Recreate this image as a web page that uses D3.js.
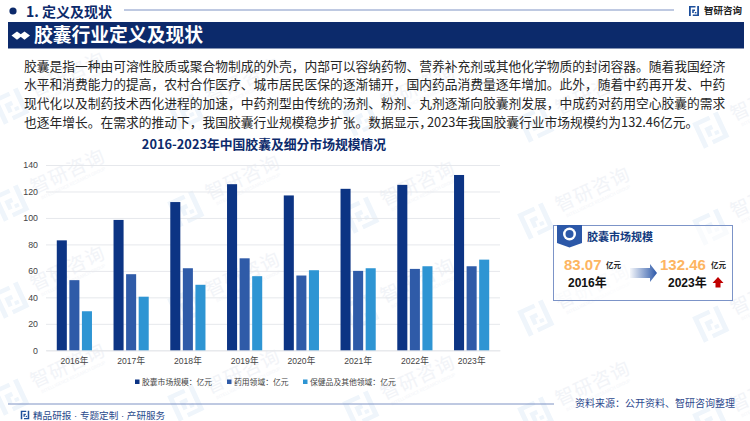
<!DOCTYPE html>
<html><head><meta charset="utf-8">
<script src="https://cdnjs.cloudflare.com/ajax/libs/d3/7.8.5/d3.min.js"></script>
<style>html,body{margin:0;padding:0;background:#fff}svg{display:block}
text{font-family:"Noto Sans CJK SC","Noto Sans",sans-serif}</style></head>
<body><svg id="c" width="750" height="421"></svg>
<script>
const years=["2016年","2017年","2018年","2019年","2020年","2021年","2022年","2023年"];
const market=[83.07,98.5,112,125.5,117,122,125,132.46];
const pharma=[53,57.5,62,69.5,56.5,60,61.5,63.5];
const health=[29.5,40.5,49.5,56,60.5,62,63.5,68.5];
const seriesNames=["胶囊市场规模：亿元","药用领域：亿元","保健品及其他领域：亿元"];
const seriesColors=["#0c3484","#2f5ba8","#2e95d3"];
const yTicks=[0,20,40,60,80,100,120,140];
const paragraph=[
["胶囊是指一种由可溶性胶质或聚合物制成的外壳，内部可以容纳药物、营养补充剂或其他化学物质的封闭容器。随着我国经济"],
["水平和消费能力的提高，农村合作医疗、城市居民医保的逐渐铺开，国内药品消费量逐年增加。此外，随着中药再开发、中药"],
["现代化以及制药技术西化进程的加速，中药剂型由传统的汤剂、粉剂、丸剂逐渐向胶囊剂发展，中成药对药用空心胶囊的需求"],
["也逐年增长。在需求的推动下，我国胶囊行业规模稳步扩张。数据显示，","2023年我国胶囊行业市场规模约为132.46亿元。"]];

const navy="#0c2a6b";
const svg=d3.select("#c");
const defs=svg.append("defs");
const grad=defs.append("linearGradient").attr("id","ag");
grad.append("stop").attr("offset","0").attr("stop-color","#2c58a8").attr("stop-opacity",0.05);
grad.append("stop").attr("offset","1").attr("stop-color","#2c58a8");

function logo(g,s,color){
  const p=g.append("g").attr("transform",`scale(${s})`).attr("fill",color);
  p.append("path").attr("d","M-5 -5H1.5V-3.4H-3.2V5H-5Z");
  p.append("path").attr("d","M-1.8 -1.6H1V0H-.2V2H-1.8Z");
  p.append("path").attr("d","M3.2 -5H5V5H-1.2V3.4H3.2Z");
  p.append("path").attr("d","M.8 1H2.4V2.4H.8Z");
}

// watermarks
const wm=svg.append("g");
for(let i=0;i<=4;i++)for(let j=-1;j<=2;j++){
  const g=wm.append("g").attr("transform",`translate(${68+175*i},${172+97*j+6*i}) rotate(-25)`);
  g.append("text").attr("text-anchor","middle").attr("y",6).attr("font-size",19).attr("letter-spacing",1)
    .attr("fill","#f2f4f8").text("智研咨询");
  g.append("text").attr("text-anchor","middle").attr("y",14).attr("font-size",4.5)
    .attr("fill","#f3f5f9").text("INTELLIGENCE RESEARCH GROUP");
  const l=g.append("g").attr("transform","translate(-65,4)");
  logo(l,2.8,"#eff5fb");
}

// header
svg.append("circle").attr("cx",13).attr("cy",11).attr("r",3.6).attr("fill",navy);
svg.append("text").attr("x",26).attr("y",16.5).attr("font-size",14).attr("font-weight",700).attr("fill",navy).text("1. 定义及现状");
svg.append("line").attr("x1",124).attr("x2",674).attr("y1",10).attr("y2",10).attr("stroke","#7f93c4").attr("stroke-width",1);
logo(svg.append("g").attr("transform","translate(694,11)"),1,"#1d4f9c");
svg.append("text").attr("x",704).attr("y",14).attr("font-size",9.5).attr("font-weight",700).attr("fill","#222").text("智研咨询");

// banner
svg.append("rect").attr("x",8).attr("y",22).attr("width",736).attr("height",26.5).attr("fill",navy);
[[17,5.5],[24.5,5.5]].forEach(([x,r])=>svg.append("path").attr("d",`M${x-r} 35.5L${x} ${35.5-r*.75}L${x+r} 35.5L${x} ${35.5+r*.75}Z`).attr("fill","#fff"));
svg.append("text").attr("x",34).attr("y",42).attr("font-size",18.8).attr("font-weight",700).attr("fill","#fff").text("胶囊行业定义及现状");

// paragraph
const para=svg.append("g").selectAll("text").data(paragraph).join("text")
  .attr("x",24).attr("y",(d,i)=>70.5+i*18.7).attr("font-size",12.75).attr("fill","#262626");
para.selectAll("tspan").data(d=>d).join("tspan").attr("dx",(d,i)=>i?-5:0).text(d=>d);

// chart
svg.append("text").attr("x",264).attr("y",149).attr("text-anchor","middle").attr("font-size",12.8).attr("font-weight",700)
  .attr("fill",navy).text("2016-2023年中国胶囊及细分市场规模情况");

const x0=d3.scaleBand().domain(years).range([46,500]).paddingInner(0.38).paddingOuter(0.19);
const x1=d3.scaleBand().domain([0,1,2]).range([0,x0.bandwidth()]).paddingInner(0.2).paddingOuter(0);
const y=d3.scaleLinear().domain([0,140]).range([350.3,165]);
const axisFont='"Liberation Sans",Arial,"Noto Sans CJK SC",sans-serif';

const yAxis=svg.append("g").attr("transform","translate(46,0)")
  .call(d3.axisLeft(y).tickValues(yTicks).tickSize(-454).tickPadding(8));
yAxis.select(".domain").remove();
yAxis.selectAll("line").attr("stroke","#e6e8ec").attr("stroke-width",1);
yAxis.selectAll("text").attr("font-size",8.8).attr("fill","#444").style("font-family",axisFont);

const xAxis=svg.append("g").attr("transform","translate(0,350.3)")
  .call(d3.axisBottom(x0).tickSize(0).tickPadding(8));
xAxis.select(".domain").attr("stroke","#e6e8ec");
xAxis.selectAll("text").attr("font-size",8.6).attr("fill","#444").style("font-family",axisFont);

[market,pharma,health].forEach((vals,k)=>{
  svg.append("g").selectAll("rect").data(vals).join("rect")
    .attr("x",(d,i)=>x0(years[i])+x1(k)).attr("width",x1.bandwidth())
    .attr("y",d=>y(d)).attr("height",d=>y(0)-y(d)).attr("fill",seriesColors[k]);
});

// legend
const legendX=[135,227,303];
const leg=svg.append("g").selectAll("g").data(seriesNames).join("g").attr("transform",(d,i)=>`translate(${legendX[i]},382)`);
leg.append("rect").attr("y",-2.5).attr("width",4.5).attr("height",4.5).attr("fill",(d,i)=>seriesColors[i]);
leg.append("text").attr("x",7).attr("y",3).attr("font-size",7.8).attr("fill","#444").text(d=>d);

// card
svg.append("rect").attr("x",553.5).attr("y",225.5).attr("width",179).attr("height",75).attr("fill","#fff").attr("fill-opacity",.6).attr("stroke","#7c94c8").attr("stroke-width",1);
svg.append("path").attr("d","M557 225H582V243L569.5 247.5L557 243Z").attr("fill","#2c58a8");
svg.append("circle").attr("cx",569.5).attr("cy",234).attr("r",6.5).attr("fill","#fff");
svg.append("circle").attr("cx",569.5).attr("cy",234).attr("r",4).attr("fill","#2c58a8");
svg.append("text").attr("x",587).attr("y",240.5).attr("font-size",11).attr("font-weight",700).attr("fill","#123a80").text("胶囊市场规模");
const big=[[564,"83.07",606,568,"2016年"],[660,"132.46",711,668,"2023年"]];
big.forEach(([vx,v,ux,yx,yl])=>{
  svg.append("text").attr("x",vx).attr("y",269.5).attr("font-size",15).attr("font-weight",700).attr("fill","#fdb562").style("font-family",axisFont).text(v);
  svg.append("text").attr("x",ux).attr("y",267.5).attr("font-size",7.5).attr("font-weight",700).attr("fill","#222").text("亿元");
  svg.append("text").attr("x",yx).attr("y",287).attr("font-size",12).attr("font-weight",700).attr("fill","#111").style("font-family",axisFont).text(yl);
});
svg.append("path").attr("d","M630 268H650V264L657 273L650 282V278H630Z").attr("fill","url(#ag)");
svg.append("path").attr("d","M718 277L723.5 283H720.5V287.5H715.5V283H712.5Z").attr("fill","#c00000");

// footer
svg.append("line").attr("x1",8).attr("x2",554).attr("y1",404).attr("y2",404).attr("stroke","#7f93c4").attr("stroke-width",1);
logo(svg.append("g").attr("transform","translate(25,415)"),.85,"#1d4f9c");
svg.append("text").attr("x",33).attr("y",418.5).attr("font-size",9.6).attr("fill","#2a4a8c").style("font-family",axisFont).text("精品研报 · 专题定制 · 产研服务");
svg.append("text").attr("x",575).attr("y",407).attr("font-size",10).attr("fill","#2e4a8e").text("资料来源：公开资料、智研咨询整理");
</script></body></html>
